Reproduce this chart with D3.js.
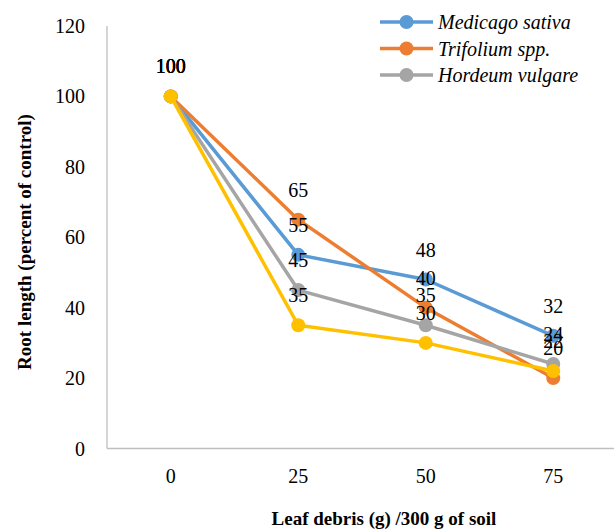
<!DOCTYPE html>
<html><head><meta charset="utf-8">
<script src="https://cdn.jsdelivr.net/npm/d3@7"></script>
</head><body style="margin:0">
<svg id="c" width="614" height="530"></svg>
<script>
const categories = ["0", "25", "50", "75"];
const seriesNames = ["Medicago sativa", "Trifolium spp.", "Hordeum vulgare", ""];
const medicago = [100, 55, 48, 32];
const trifolium = [100, 65, 40, 20];
const hordeum = [100, 45, 35, 24];
const fourth = [100, 35, 30, 22];
const yTicks = [0, 20, 40, 60, 80, 100, 120];
const colors = ["#5B9BD5", "#ED7D31", "#A5A5A5", "#FFC000"];
const legendShown = [true, true, true, false];

const allSeries = [medicago, trifolium, hordeum, fourth];
const svg = d3.select("#c");
const fam = "Liberation Serif";
const plotLeft = 107, plotRight = 617, plotTop = 26, plotBottom = 448.5;

const x = d3.scalePoint().domain(categories).range([plotLeft, plotRight]).padding(0.5);
const y = d3.scaleLinear().domain([0, 120]).range([plotBottom, plotTop]);

function addText(tx, ty, str, size, anchor, weight, italic, transform) {
  const t = svg.append("text").attr("x", tx).attr("y", ty)
    .style("font-family", "'" + fam + "', monospace").attr("font-size", size)
    .attr("text-anchor", anchor).attr("fill", "#000").text(str);
  if (weight) t.attr("font-weight", weight);
  if (italic) t.attr("font-style", "italic");
  if (transform) t.attr("transform", transform);
  return t;
}

// axes lines
svg.append("line").attr("x1", plotLeft).attr("x2", plotLeft).attr("y1", plotTop).attr("y2", plotBottom)
  .attr("stroke", "#BFBFBF").attr("stroke-width", 1.3);
svg.append("line").attr("x1", plotLeft).attr("x2", 614).attr("y1", plotBottom).attr("y2", plotBottom)
  .attr("stroke", "#BFBFBF").attr("stroke-width", 1.3);

// y tick labels
yTicks.forEach(d => addText(85, y(d) + 7, d, 20, "end"));
// x tick labels
categories.forEach(d => addText(x(d), 483, d, 20, "middle"));

// axis titles
addText(0, 0, "Root length (percent of control)", 19, "middle", "bold", false, "translate(31,242) rotate(-90)");
addText(384, 525, "Leaf debris (g) /300 g of soil", 19, "middle", "bold");

// lines and markers
const line = d3.line().x((d, i) => x(categories[i])).y(d => y(d));
allSeries.forEach((s, k) => {
  svg.append("path").attr("d", line(s)).attr("fill", "none")
    .attr("stroke", colors[k]).attr("stroke-width", 3.5).attr("stroke-linejoin", "round");
  s.forEach((d, i) => {
    svg.append("circle").attr("cx", x(categories[i])).attr("cy", y(d)).attr("r", 7).attr("fill", colors[k]);
  });
});

// data labels
allSeries.forEach(s => {
  s.forEach((d, i) => addText(x(categories[i]), y(d) - 23, d, 20, "middle"));
});

// legend
seriesNames.forEach((n, i) => {
  if (!legendShown[i]) return;
  const yy = 22 + i * 26.5;
  svg.append("line").attr("x1", 380).attr("x2", 433).attr("y1", yy).attr("y2", yy)
    .attr("stroke", colors[i]).attr("stroke-width", 3.5);
  svg.append("circle").attr("cx", 406.5).attr("cy", yy).attr("r", 7).attr("fill", colors[i]);
  addText(438, yy + 7, n, 20, "start", null, true);
});
</script>
</body></html>
